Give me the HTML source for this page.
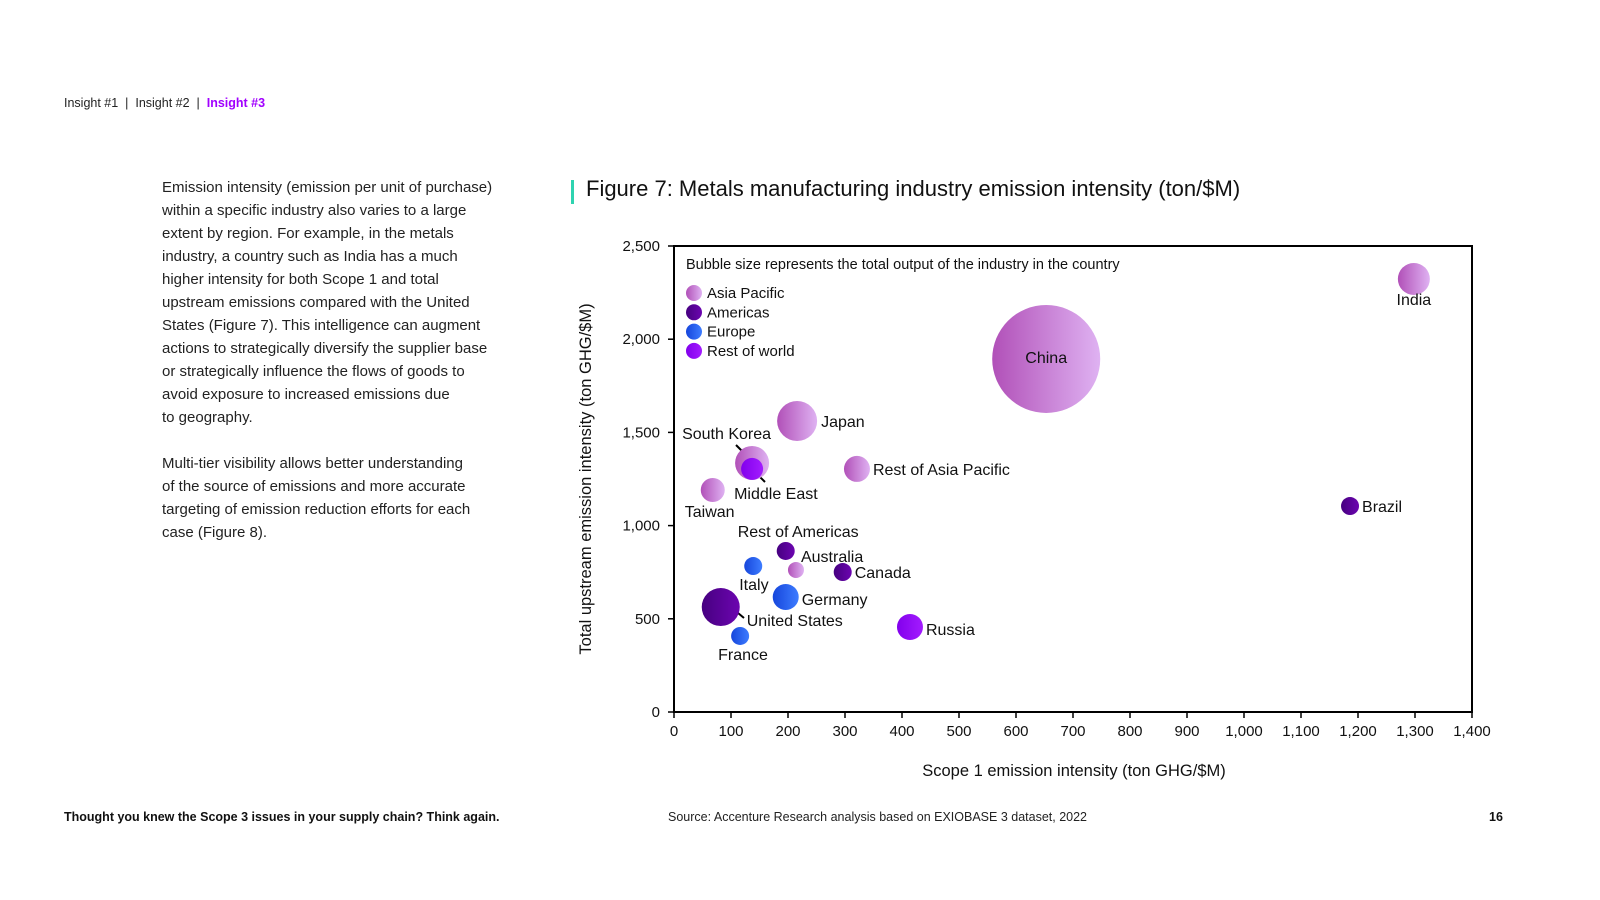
<!DOCTYPE html>
<html><head><meta charset="utf-8"><style>
body{margin:0;width:1600px;height:900px;background:#fff;font-family:"Liberation Sans",sans-serif;position:relative;overflow:hidden;color:#111}
.abs{position:absolute}
.body-text{left:162px;top:176px;width:400px;font-size:15px;line-height:23px;color:#222;white-space:nowrap}
</style></head><body>
<div class="abs" style="left:64px;top:96px;font-size:12.5px;color:#222">
<span>Insight #1</span> &nbsp;|&nbsp; <span>Insight #2</span> &nbsp;|&nbsp; <b style="color:#a100ff">Insight #3</b></div>
<div class="abs body-text">Emission intensity (emission per unit of purchase)<br>within a specific industry also varies to a large<br>extent by region. For example, in the metals<br>industry, a country such as India has a much<br>higher intensity for both Scope 1 and total<br>upstream emissions compared with the United<br>States (Figure 7). This intelligence can augment<br>actions to strategically diversify the supplier base<br>or strategically influence the flows of goods to<br>avoid exposure to increased emissions due<br>to geography.<br><br>Multi-tier visibility allows better understanding<br>of the source of emissions and more accurate<br>targeting of emission reduction efforts for each<br>case (Figure 8).</div>
<div class="abs" style="left:571px;top:180px;width:3px;height:24px;background:#2ed3b0"></div>
<div class="abs" style="left:586px;top:176px;font-size:22px;color:#111">Figure 7: Metals manufacturing industry emission intensity (ton/$M)</div>
<div class="abs" style="left:64px;top:810px;font-size:12.5px;font-weight:bold">Thought you knew the Scope 3 issues in your supply chain? Think again.</div>
<div class="abs" style="left:668px;top:810px;font-size:12.5px;color:#222">Source: Accenture Research analysis based on EXIOBASE 3 dataset, 2022</div>
<div class="abs" style="left:1489px;top:810px;font-size:12.5px;font-weight:bold">16</div>
<svg class="abs" style="left:0;top:0" width="1600" height="900" id="chart" font-family="Liberation Sans, sans-serif">
<defs>
<linearGradient id="g0"><stop offset="0" stop-color="#b150b8"/><stop offset="1" stop-color="#dfb2f2"/></linearGradient>
<linearGradient id="g1"><stop offset="0" stop-color="#460080"/><stop offset="1" stop-color="#6c05b0"/></linearGradient>
<linearGradient id="g2"><stop offset="0" stop-color="#1646dc"/><stop offset="1" stop-color="#3d7cff"/></linearGradient>
<linearGradient id="g3"><stop offset="0" stop-color="#8200ec"/><stop offset="1" stop-color="#a31cff"/></linearGradient>
</defs>
</svg>
<script>
const names=["India","China","Japan","South Korea","Middle East","Rest of Asia Pacific","Taiwan","Brazil","Rest of Americas","Australia","Canada","Italy","Germany","United States","Russia","France"];
const scope1=[1298,653,216,137,137,321,68,1186,196,214,296,139,196,82,414,116];
const upstream=[2323,1894,1561,1336,1304,1304,1191,1105,864,762,751,783,617,563,456,408];
const output=[256,2916,400,289,121,169,144,81,81,64,81,81,169,361,169,81];
const region=[0,0,0,0,3,0,0,1,1,0,1,2,2,1,3,2];
const regionNames=["Asia Pacific","Americas","Europe","Rest of world"];
const xTicks=[0,100,200,300,400,500,600,700,800,900,1000,1100,1200,1300,1400];
const yTicks=[0,500,1000,1500,2000,2500];
const labelPos=[[0,26,"middle"],[0,4,"middle"],[24,6,"start"],[-70,-24,"start"],[-18,30,"start"],[16,6,"start"],[-28,27,"start"],[12,6,"start"],[-48,-14,"start"],[5,-8,"start"],[12,6,"start"],[-14,24,"start"],[16,8,"start"],[26,19,"start"],[16,8,"start"],[-22,24,"start"]];
const X0=674,X1=1472,Y0=712,Y1=246;
const xs=v=>X0+(v-0)/1400*(X1-X0), ys=v=>Y0-v/2500*(Y0-Y1), rs=v=>Math.sqrt(v);
const svg=document.getElementById('chart'),NS="http://www.w3.org/2000/svg";
function mk(t,a,p){const e=document.createElementNS(NS,t);for(const k in a)e.setAttribute(k,a[k]);(p||svg).appendChild(e);return e;}
const frame=mk('rect',{x:X0,y:Y1,width:X1-X0,height:Y0-Y1,fill:'none',stroke:'#000','stroke-width':2});


xTicks.forEach(v=>{const x=xs(v);mk('line',{x1:x,x2:x,y1:Y0,y2:Y0+6,stroke:'#000','stroke-width':1.5});
const t=mk('text',{x:x,y:Y0+24,'text-anchor':'middle','font-size':15,fill:'#111'});t.textContent=v.toLocaleString('en-US');

});
yTicks.forEach(v=>{const y=ys(v);mk('line',{x1:X0-6,x2:X0,y1:y,y2:y,stroke:'#000','stroke-width':1.5});
const t=mk('text',{x:X0-14,y:y+5,'text-anchor':'end','font-size':15,fill:'#111'});t.textContent=v.toLocaleString('en-US');

});
const xt=mk('text',{x:1074,y:776,'text-anchor':'middle','font-size':16.5,fill:'#111'});xt.textContent='Scope 1 emission intensity (ton GHG/$M)';


const yt=mk('text',{x:0,y:0,'text-anchor':'middle','font-size':16.5,fill:'#111',transform:'translate(591,479) rotate(-90)'});yt.textContent='Total upstream emission intensity (ton GHG/$M)';


const note=mk('text',{x:686,y:269,'font-size':14.5,fill:'#111'});note.textContent='Bubble size represents the total output of the industry in the country';


regionNames.forEach((n,i)=>{const g=mk('g',{});


mk('circle',{cx:694,cy:293+i*19.3,r:8,fill:'url(#g'+i+')'},g);
const t=mk('text',{x:707,y:298+i*19.3,'font-size':15,fill:'#111'},g);t.textContent=n;});
mk('line',{x1:736,y1:445,x2:745,y2:454,stroke:'#000','stroke-width':2});
mk('line',{x1:759,y1:476,x2:765,y2:482,stroke:'#000','stroke-width':2});
mk('line',{x1:738,y1:613,x2:744,y2:618,stroke:'#000','stroke-width':2});
names.forEach((n,i)=>{const cx=xs(scope1[i]),cy=ys(upstream[i]);
const c=mk('circle',{cx:cx,cy:cy,r:rs(output[i]),fill:'url(#g'+region[i]+')'});

});
names.forEach((n,i)=>{const cx=xs(scope1[i]),cy=ys(upstream[i]);const p=labelPos[i];
const t=mk('text',{x:cx+p[0],y:cy+p[1],'text-anchor':p[2],'font-size':16,fill:'#111'});t.textContent=n;

});
</script>
</body></html>
